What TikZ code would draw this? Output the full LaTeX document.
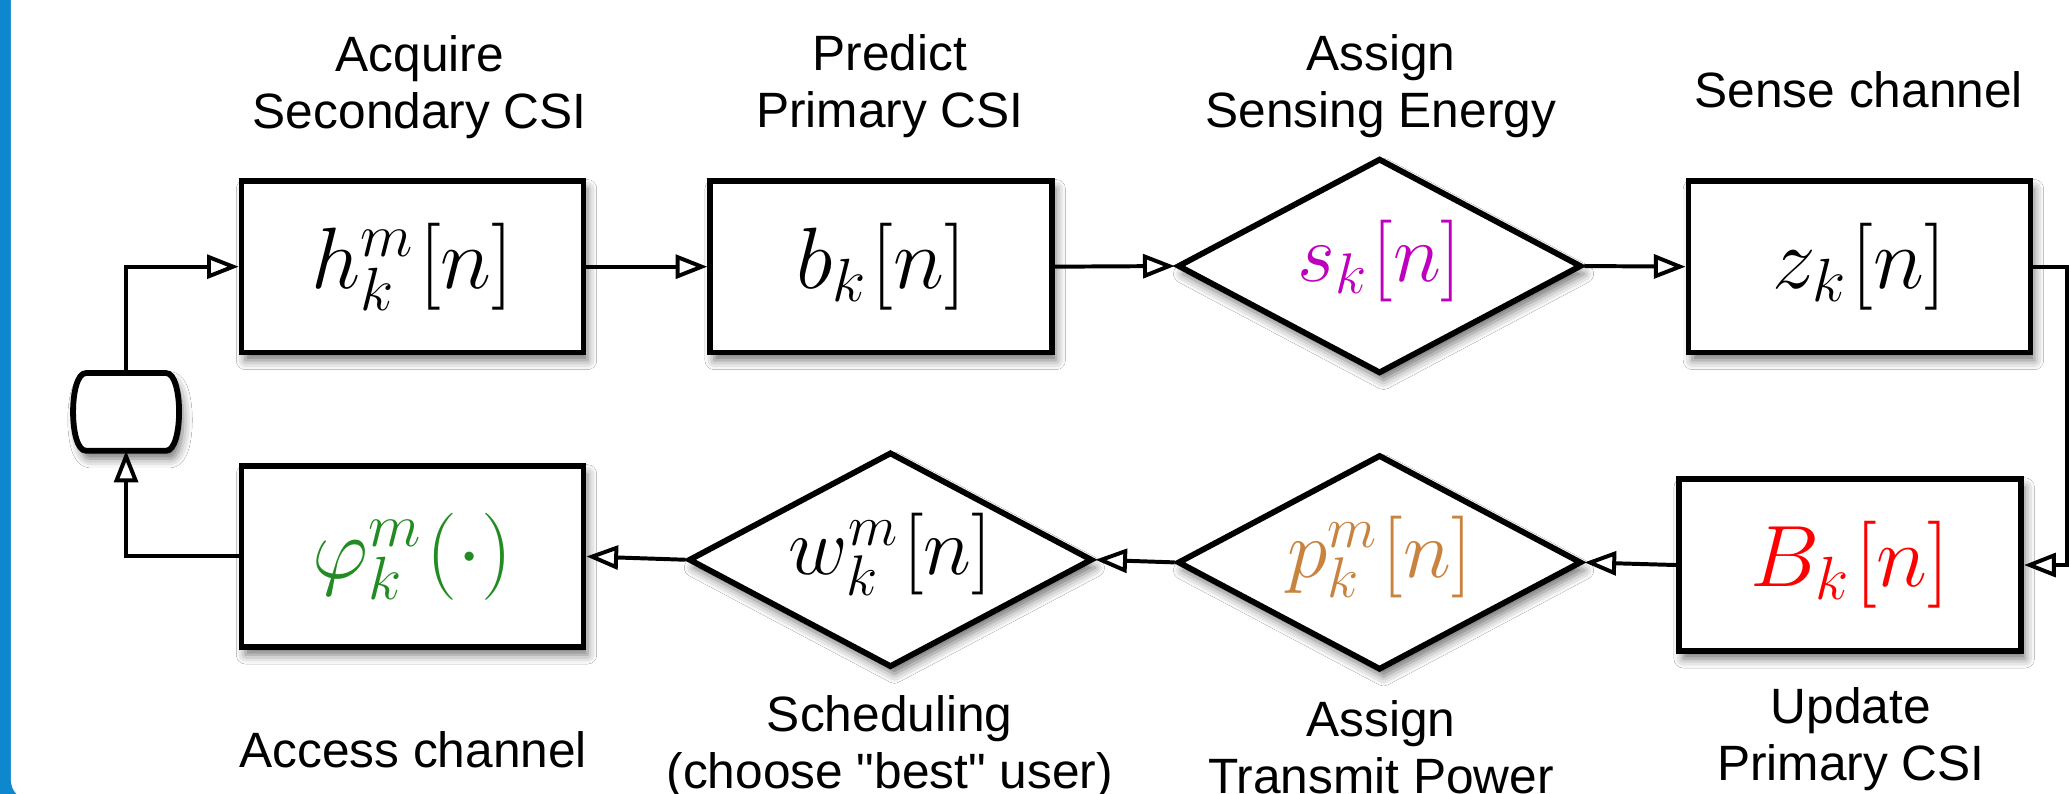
\RequirePackage{fix-cm}
\documentclass[tikz,border=0pt]{standalone}
\usepackage[no-math]{fontspec}
\newfontfamily\labfont{Liberation Sans}
\usetikzlibrary{arrows.meta,shapes.geometric,shadows.blur}
\definecolor{panelblue}{RGB}{13,136,207}
\definecolor{smag}{RGB}{190,0,190}
\definecolor{pbrown}{RGB}{200,132,62}
\definecolor{phigreen}{RGB}{34,139,34}

\tikzset{
  softshadow/.style={blur shadow={shadow xshift=1.5pt, shadow yshift=-3pt,
      shadow blur radius=3.5pt, shadow opacity=55}},
  blk/.style={rectangle, draw, line width=2.2pt, fill=white, inner sep=0pt,
      minimum width=129.5pt, minimum height=65pt,
      font=\fontsize{33}{38}\selectfont, softshadow},
  dia/.style={diamond, draw, line width=2.2pt, fill=white, inner sep=0pt,
      aspect=1.88, minimum width=153pt, minimum height=81.5pt,
      text height=11.5pt, text depth=0pt,
      font=\fontsize{31}{36}\selectfont, softshadow},
  lab/.style={font=\labfont\fontsize{18.8}{21.5}\selectfont, align=center, inner sep=0pt},
  conn/.style={line width=1.5pt,
      -{Triangle[open, length=12pt, width=9pt, line width=1.5pt]}},
}

\begin{document}
\begin{tikzpicture}[x=0.5pt, y=-0.5pt]
\useasboundingbox (0,0) rectangle (1568,601);
\clip (0,0) rectangle (1568,601);

% side panel
\fill[panelblue] (0,-10) rectangle (40,611);
\fill[white, rounded corners=7.5pt] (8.3,-30) rectangle (1620,606);

% upper row
\node[blk] (h) at (312.5,202) {$h_k^m\mkern1mu[n]$};
\node[blk] (b) at (667.5,202) {$b_k\mkern1mu[n]$};
\node[dia, text=smag] (s) at (1045,201.5) {$s_k\mkern1mu[n]$};
\node[blk] (z) at (1408.5,202) {$z_k\mkern1mu[n]$};

% lower row
\node[blk, text=red] (B) at (1401.5,428) {$B_k\mkern1mu[n]$};
\node[dia, text=pbrown] (p) at (1045,426) {$p_k^m\mkern1mu[n]$};
\node[dia] (w) at (674.5,424) {$w_k^m\mkern1mu[n]$};
\node[blk, text=phigreen, minimum height=68.5pt] (phi) at (312.5,421.5) {$\varphi_k^m\mkern1mu(\cdot)$};

% delay element
\node[minimum width=30pt, minimum height=29pt, inner sep=0pt] (cyl) at (95.5,312) {};
\draw[line width=2.2pt, fill=white, softshadow]
  (cyl.north west) -- (cyl.north east)
  .. controls +(13,0) and +(13,0) .. (cyl.south east)
  -- (cyl.south west)
  .. controls +(-13,0) and +(-13,0) .. (cyl.north west) -- cycle;

% right-hand return line
\coordinate (rt) at (1566,0);

% connectors
\draw[conn] (cyl.north) |- (h.west);
\draw[conn] (h.east) -- (b.west);
\draw[conn] (b.east) -- (s.west);
\draw[conn] (s.east) -- (z.west);
\draw[conn] (z.east) -- (z.east -| rt) -- (B.east -| rt) -- (B.east);
\draw[conn] (B.west) -- (p.east);
\draw[conn] (p.west) -- (w.east);
\draw[conn] (w.west) -- (phi.east);
\draw[conn] (phi.west) -| (cyl.south);

% captions
\node[lab] (l1) at (318,66) {Acquire\\Secondary CSI};
\node[lab] (l2) at (674,65) {Predict\\Primary CSI};
\node[lab] (l3) at (1046,65) {Assign\\Sensing Energy};
\node[lab] (l4) at (1408,68) {Sense channel};
\node[lab] (l5) at (313,568) {Access channel};
\node[lab] (l6) at (674,566) {Scheduling\\(choose "best" user)};
\node[lab] (l7) at (1046,566) {Assign\\Transmit Power};
\node[lab] (l8) at (1402,560) {Update\\Primary CSI};
\end{tikzpicture}
\end{document}
